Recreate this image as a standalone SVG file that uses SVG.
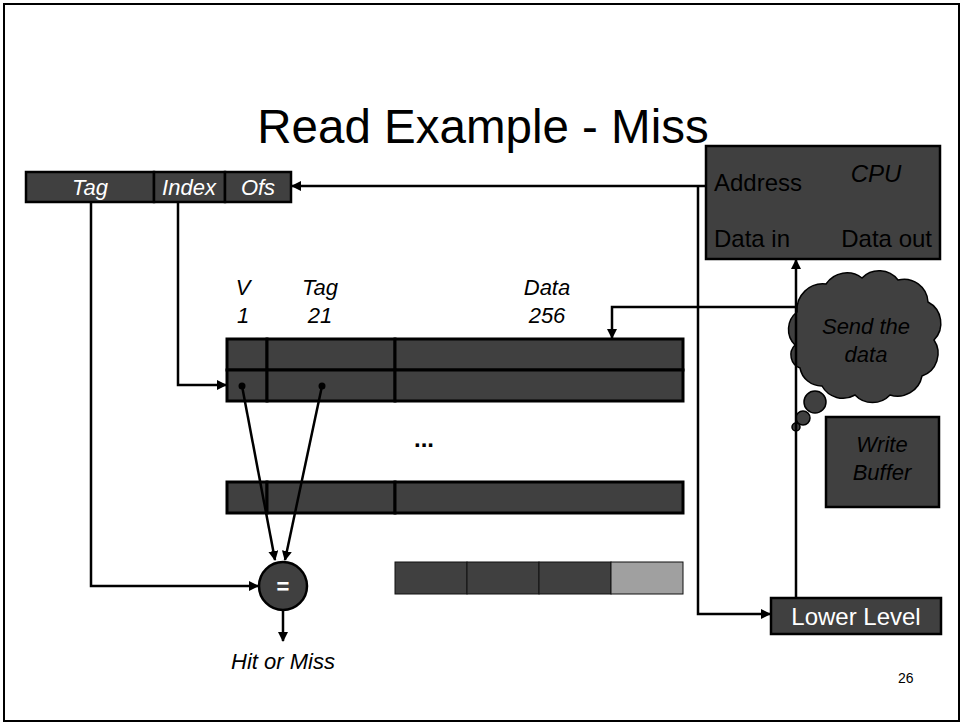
<svg xmlns="http://www.w3.org/2000/svg" width="961" height="724" viewBox="0 0 961 724">
<defs>
<marker id="ah" viewBox="0 0 10 10" refX="9" refY="5" markerWidth="10" markerHeight="10" markerUnits="userSpaceOnUse" orient="auto">
<path d="M0,0 L10,5 L0,10 z" fill="#000"/>
</marker>
<style>
.box{fill:#404040;stroke:#000;stroke-width:2.5}
.cell{fill:#404040;stroke:#000;stroke-width:3}
.buf{fill:#404040;stroke:#111;stroke-width:1}
.t{font-family:"Liberation Sans",Arial,sans-serif;font-size:22px}
.big{font-size:24px}
.w{fill:#fff}
.k{fill:#000}
.i{font-style:italic}
.c{text-anchor:middle}
.ln{fill:none;stroke:#000;stroke-width:2.5}
</style>
</defs>
<rect x="0" y="0" width="961" height="724" fill="#fff"/>
<rect x="4" y="4" width="955" height="717" fill="none" stroke="#000" stroke-width="2"/>

<text class="t k" x="483" y="143" text-anchor="middle" style="font-size:47.5px">Read Example - Miss</text>

<g id="address-bar">
<rect class="box" x="26" y="172" width="128" height="30"/>
<rect class="box" x="154" y="172" width="71" height="30"/>
<rect class="box" x="225" y="172" width="66" height="30"/>
<text class="t w i c" x="90" y="195">Tag</text>
<text class="t w i c" x="189" y="195">Index</text>
<text class="t w i c" x="258" y="195">Ofs</text>
</g>

<g id="cpu">
<rect class="box" x="706" y="146" width="234" height="113"/>
<text class="t big k" x="714" y="191">Address</text>
<text class="t big k i c" x="876" y="182">CPU</text>
<text class="t big k" x="714" y="247">Data in</text>
<text class="t big k" x="932" y="247" text-anchor="end">Data out</text>
</g>

<g id="cache-headers">
<text class="t k i c" x="243" y="295">V</text>
<text class="t k i c" x="243" y="323">1</text>
<text class="t k i c" x="320" y="295">Tag</text>
<text class="t k i c" x="320" y="323">21</text>
<text class="t k i c" x="547" y="295">Data</text>
<text class="t k i c" x="547" y="323">256</text>
</g>

<g id="cache-row-1">
<rect class="cell" x="227" y="339" width="40" height="31"/>
<rect class="cell" x="267" y="339" width="128" height="31"/>
<rect class="cell" x="395" y="339" width="288" height="31"/>
</g>
<g id="cache-row-2">
<rect class="cell" x="227" y="370" width="40" height="31"/>
<rect class="cell" x="267" y="370" width="128" height="31"/>
<rect class="cell" x="395" y="370" width="288" height="31"/>
<circle cx="242" cy="386" r="3.5" fill="#000"/>
<circle cx="322" cy="386" r="3.5" fill="#000"/>
</g>
<g id="ellipsis">
<text class="t k c" x="424" y="447" style="font-weight:bold;font-size:24px">...</text>
</g>
<g id="cache-row-last">
<rect class="cell" x="227" y="482" width="40" height="31"/>
<rect class="cell" x="267" y="482" width="128" height="31"/>
<rect class="cell" x="395" y="482" width="288" height="31"/>
</g>

<g id="comparator">
<circle cx="283" cy="586" r="24" fill="#404040" stroke="#000" stroke-width="2.5"/>
<text class="t w c" x="283" y="594" style="font-weight:bold">=</text>
</g>
<g id="hit-or-miss">
<text class="t k i c" x="283" y="669">Hit or Miss</text>
</g>

<g id="buffer-bar">
<rect class="buf" x="395" y="562" width="72" height="32"/>
<rect class="buf" x="467" y="562" width="72" height="32"/>
<rect class="buf" x="539" y="562" width="72" height="32"/>
<rect class="buf" x="611" y="562" width="72" height="32" style="fill:#a0a0a0"/>
</g>

<g id="cloud">
<path d="M795,345 A22,22 0 0 1 797,312 A26,26 0 0 1 826,284 A25,25 0 0 1 862,278 A24,24 0 0 1 898,280 A24,24 0 0 1 928,302 A24,24 0 0 1 934,340 A24,24 0 0 1 922,376 A25,25 0 0 1 890,395 A24,24 0 0 1 855,395 A24,24 0 0 1 822,386 A22,22 0 0 1 800,368 A14,14 0 0 1 795,345 z" fill="#404040" stroke="#000" stroke-width="1.5"/>
<circle cx="815" cy="402" r="11" fill="#404040" stroke="#000" stroke-width="1.5"/>
<circle cx="803" cy="418" r="7" fill="#404040" stroke="#000" stroke-width="1.5"/>
<circle cx="796" cy="427" r="4" fill="#404040" stroke="#000" stroke-width="1.5"/>
<text class="t k i c" x="866" y="334">Send the</text>
<text class="t k i c" x="866" y="362">data</text>
</g>

<g id="write-buffer">
<rect class="box" x="826" y="417" width="113" height="90"/>
<text class="t k i c" x="882" y="452">Write</text>
<text class="t k i c" x="882" y="480">Buffer</text>
</g>

<g id="lower-level">
<rect class="box" x="771" y="598" width="170" height="36"/>
<text class="t big w c" x="856" y="625">Lower Level</text>
</g>

<g id="connectors">
<path class="ln" d="M706,186 H292" marker-end="url(#ah)"/>
<path class="ln" d="M698,186 V614 H770" marker-end="url(#ah)"/>
<path class="ln" d="M796,598 V260" marker-end="url(#ah)"/>
<path class="ln" d="M796,307 H612 V338" marker-end="url(#ah)"/>
<path class="ln" d="M178,202 V385 H226" marker-end="url(#ah)"/>
<path class="ln" d="M91,202 V586 H258" marker-end="url(#ah)"/>
<path class="ln" d="M242,386 L275,560" marker-end="url(#ah)"/>
<path class="ln" d="M322,386 L285,560" marker-end="url(#ah)"/>
<path class="ln" d="M283,610 V641" marker-end="url(#ah)"/>
</g>

<text class="t k" x="898" y="683" style="font-size:14px">26</text>
</svg>
